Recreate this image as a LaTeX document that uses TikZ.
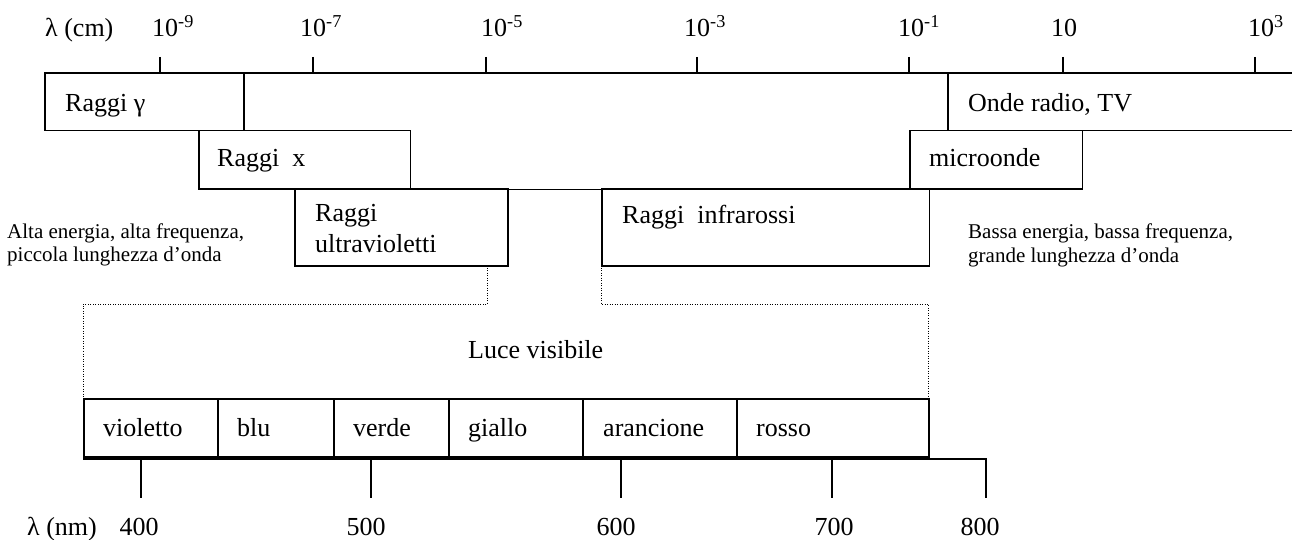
\documentclass[tikz,border=0pt]{standalone}
\usepackage{fontspec}
\setmainfont{Liberation Serif}
\newfontfamily\tnr{Liberation Serif}
\begin{document}
\begin{tikzpicture}[x=1pt,y=-1pt,
  box/.style={draw, line width=1.5pt, inner sep=0pt, anchor=north west},
  big/.style={font=\tnr\fontsize{26}{30}\selectfont, inner sep=0pt, anchor=base west},
  small/.style={font=\tnr\fontsize{21}{24}\selectfont, inner sep=0pt, anchor=base west},
  num/.style={font=\tnr\fontsize{26}{30}\selectfont, inner sep=0pt, anchor=base},
  tickline/.style={line width=1.4pt},
  axisline/.style={line width=1.6pt},
  dots/.style={line width=0.9pt, dash pattern=on 0.9pt off 1.6pt}]
\clip (0,0) rectangle (1292,540);

% ---- top wavelength scale (cm)
\node[big] (lcm) at (45,37) {λ (cm)};
\node[big] (e9) at (152,37) {10\textsuperscript{-9}};
\node[big] (e7) at (300,37) {10\textsuperscript{-7}};
\node[big] (e5) at (481,37) {10\textsuperscript{-5}};
\node[big] (e3) at (684,37) {10\textsuperscript{-3}};
\node[big] (e1) at (898,37) {10\textsuperscript{-1}};
\node[num] (p1) at (1064,37) {10};
\node[big] (p3) at (1248,37) {10\textsuperscript{3}};

\coordinate (axL) at (44,73);
\coordinate (axR) at (1292,73);
\draw[axisline] (axL) -- (axR);
\foreach \t/\x in {t9/160,t7/313,t5/486,t3/697,t1/909,tp1/1063,tp3/1255}{
  \coordinate (\t a) at (\x,57);
  \coordinate (\t b) at (\x,73);
  \draw[tickline] (\t a) -- (\t b);
}

% ---- first and second rows of bands
\node[box, minimum width=199pt, minimum height=57pt] (gam) at (44,73) {};
\node[big] (gamt) at (65,112) {Raggi γ};
\node[box, minimum width=360pt, minimum height=57pt] (onde) at (947,73) {};
\node[big] (ondet) at (968,112) {Onde radio, TV};

\node[box, minimum width=211.5pt, minimum height=58pt] (rx) at (198,130) {};
\node[big] (rxt) at (217,167) {Raggi\ \ x};
\node[box, minimum width=172.5pt, minimum height=58pt] (mic) at (909,130) {};
\node[big] (mict) at (929,167) {microonde};
\draw[box] (rx.south west) -- (mic.south east);

% ---- third row
\node[box, minimum width=213pt, minimum height=77pt] (uv) at (294,188) {};
\node[big] (uvt1) at (315,222) {Raggi};
\node[big] (uvt2) at (315,252) {ultravioletti};
\node[box, minimum width=327.5pt, minimum height=77pt] (ir) at (601,188) {};
\node[big] (irt) at (622,223) {Raggi\ \ infrarossi};

\node[small] (alta1) at (7,238) {Alta energia, alta frequenza,};
\node[small] (alta2) at (7,261) {piccola lunghezza d’onda};
\node[small] (bas1) at (968,238) {Bassa energia, bassa frequenza,};
\node[small] (bas2) at (968,262) {grande lunghezza d’onda};

% ---- visible light bracket
\coordinate (uvd) at (487,265);
\coordinate (uvc) at (487,304);
\coordinate (lc) at (83,304);
\coordinate (ld) at (83,398);
\coordinate (ird) at (601,265);
\coordinate (irc) at (601,304);
\coordinate (rc) at (928,304);
\coordinate (rd) at (928,398);
\draw[dots] (uvd) -- (uvc) -- (lc) -- (ld);
\draw[dots] (ird) -- (irc) -- (rc) -- (rd);
\node[big] (luce) at (468,358) {Luce visibile};

% ---- colour bands
\node[box, minimum width=134pt, minimum height=58pt] (vio) at (83,398) {};
\node[box, minimum width=116pt, minimum height=58pt] (blu) at (217,398) {};
\node[box, minimum width=115pt, minimum height=58pt] (ver) at (333,398) {};
\node[box, minimum width=134pt, minimum height=58pt] (gia) at (448,398) {};
\node[box, minimum width=154pt, minimum height=58pt] (ara) at (582,398) {};
\node[box, minimum width=192pt, minimum height=58pt] (ros) at (736,398) {};
\node[big] (viot) at (103,436) {violetto};
\node[big] (blut) at (237,436) {blu};
\node[big] (vert) at (353,436) {verde};
\node[big] (giat) at (468,436) {giallo};
\node[big] (arat) at (603,436) {arancione};
\node[big] (rost) at (756,436) {rosso};

% ---- bottom wavelength scale (nm)
\coordinate (bL) at (83,459);
\coordinate (bR) at (986,459);
\coordinate (bRd) at (986,498);
\draw[axisline] (bL) -- (bR) -- (bRd);
\foreach \t/\x in {n4/141,n5/371,n6/621,n7/832}{
  \coordinate (\t a) at (\x,459);
  \coordinate (\t b) at (\x,498);
  \draw[tickline] (\t a) -- (\t b);
}
\node[big] (lnm) at (27,535) {λ (nm)};
\node[num] (l4) at (139,535) {400};
\node[num] (l5) at (366,535) {500};
\node[num] (l6) at (616,535) {600};
\node[num] (l7) at (834,535) {700};
\node[num] (l8) at (980,535) {800};
\end{tikzpicture}
\end{document}
